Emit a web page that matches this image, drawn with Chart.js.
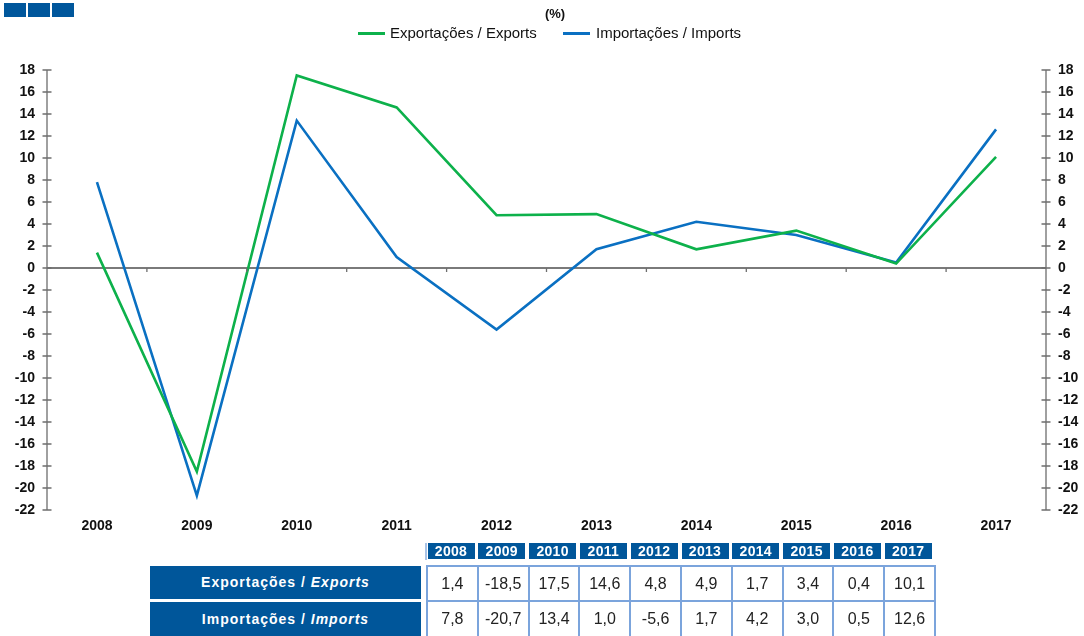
<!DOCTYPE html>
<html>
<head>
<meta charset="utf-8">
<script src="https://cdn.jsdelivr.net/npm/chart.js@4/dist/chart.umd.min.js"></script>
<style>
  html, body { margin: 0; padding: 0; background: #fff; }
  #wrap { position: relative; width: 1084px; height: 636px; overflow: hidden; font-family: "Liberation Sans", Arial, sans-serif; }
  #c { position: absolute; left: 0; top: 0; }
  .sq { position: absolute; top: 3px; width: 22px; height: 14px; background: #00579c; }
  .abs { position: absolute; }
  .lg-line { position: absolute; height: 3px; width: 27px; }
  .lg-text { position: absolute; font-size: 15px; color: #111; white-space: nowrap; line-height: 18px; }
  .hd { position: absolute; top: 543px; height: 16px; width: 47px; background: #00569a; color: #fff; font-weight: bold; font-size: 14px; line-height: 16px; text-align: center; letter-spacing: 0.3px; }
  .cell { position: absolute; box-sizing: border-box; border: 2px solid #7ba4dc; font-size: 16px; color: #222; text-align: center; }
  .rl { position: absolute; left: 150px; width: 271px; background: #00569a; color: #fff; font-weight: bold; font-size: 14px; text-align: center; letter-spacing: 1px; }
</style>
</head>
<body>
<div id="wrap">
  <canvas id="c" width="1084" height="636"></canvas>
  <div class="sq" style="left:4px"></div>
  <div class="sq" style="left:28px"></div>
  <div class="sq" style="left:52px"></div>
  <div id="legend"></div>
  <div id="table"></div>
</div>
<script>
// ---- data ----
const years = ['2008','2009','2010','2011','2012','2013','2014','2015','2016','2017'];
const exportsGrowth = [1.4, -18.5, 17.5, 14.6, 4.8, 4.9, 1.7, 3.4, 0.4, 10.1];
const importsGrowth = [7.8, -20.7, 13.4, 1.0, -5.6, 1.7, 4.2, 3.0, 0.5, 12.6];
const seriesNames = ['Exportações / Exports', 'Importações / Imports'];
const rowLabelsPt = ['Exportações / ', 'Importações / '];
const rowLabelsEn = ['Exports', 'Imports'];
const unitLabel = '(%)';
const yMin = -22, yMax = 18, yStep = 2;

const greenColor = '#0db14b';
const blueColor = '#0a70c2';
const axisColor = '#6e6e6e';

// ---- legend (HTML) ----
const legend = document.getElementById('legend');
legend.innerHTML =
  '<div class="abs" style="left:530px;top:6px;width:50px;text-align:center;font-weight:bold;font-size:13px;line-height:16px;color:#111">' + unitLabel + '</div>' +
  '<div class="lg-line" style="left:358px;top:32px;background:' + greenColor + '"></div>' +
  '<div class="lg-text" style="left:390px;top:24px">' + seriesNames[0] + '</div>' +
  '<div class="lg-line" style="left:563px;top:32px;background:' + blueColor + '"></div>' +
  '<div class="lg-text" style="left:596px;top:24px">' + seriesNames[1] + '</div>';

// ---- table (HTML) ----
function fmt(v) { return v.toFixed(1).replace('.', ','); }
const table = document.getElementById('table');
let html = '<div class="abs" style="left:425px;top:543px;width:2px;height:17px;background:#a9c3e6"></div>';
const colW = 50.8, x0 = 426;
years.forEach((y, i) => {
  const left = x0 + i * colW;
  html += '<div class="hd" style="left:' + (left + 1.5).toFixed(1) + 'px">' + y + '</div>';
  html += '<div class="cell" style="left:' + left.toFixed(1) + 'px;top:565px;width:' + (colW + 2).toFixed(1) + 'px;height:37px;line-height:33px">' + fmt(exportsGrowth[i]) + '</div>';
  html += '<div class="cell" style="left:' + left.toFixed(1) + 'px;top:600px;width:' + (colW + 2).toFixed(1) + 'px;height:40px;line-height:34px">' + fmt(importsGrowth[i]) + '</div>';
});
html += '<div class="rl" style="top:566px;height:33px;line-height:33px">' + rowLabelsPt[0] + '<i>' + rowLabelsEn[0] + '</i></div>';
html += '<div class="rl" style="top:602px;height:34px;line-height:34px">' + rowLabelsPt[1] + '<i>' + rowLabelsEn[1] + '</i></div>';
table.innerHTML = html;

// ---- axes plugin ----
const axesPlugin = {
  id: 'axesPlugin',
  afterDatasetsDraw(chart) {
    const ctx = chart.ctx;
    const a = chart.chartArea;
    const yS = chart.scales.y;
    const xS = chart.scales.x;
    ctx.save();
    ctx.strokeStyle = axisColor;
    ctx.lineWidth = 1.3;
    ctx.beginPath();
    [a.left, a.right].forEach(xp => {
      ctx.moveTo(xp, a.top); ctx.lineTo(xp, a.bottom);
      yS.ticks.forEach(t => {
        const yp = yS.getPixelForValue(t.value);
        ctx.moveTo(xp - 4.5, yp); ctx.lineTo(xp + 4.5, yp);
      });
    });
    const y0 = yS.getPixelForValue(0);
    for (let i = 1; i < years.length; i++) {
      const xp = (xS.getPixelForTick(i - 1) + xS.getPixelForTick(i)) / 2;
      ctx.moveTo(xp, y0); ctx.lineTo(xp, y0 + 4);
    }
    ctx.stroke();
    ctx.restore();
  }
};

const tickFont = { family: '"Liberation Sans", Arial, sans-serif', size: 14, weight: 'bold' };

new Chart(document.getElementById('c'), {
  type: 'line',
  data: {
    labels: years,
    datasets: [
      { label: seriesNames[0], data: exportsGrowth, borderColor: greenColor, backgroundColor: greenColor, borderWidth: 2.6, pointRadius: 0, tension: 0, yAxisID: 'y' },
      { label: seriesNames[1], data: importsGrowth, borderColor: blueColor, backgroundColor: blueColor, borderWidth: 2.6, pointRadius: 0, tension: 0, yAxisID: 'y' }
    ]
  },
  options: {
    responsive: false,
    animation: false,
    layout: { padding: { left: 0, right: 0, top: 70, bottom: 0 } },
    plugins: { legend: { display: false }, tooltip: { enabled: false } },
    scales: {
      x: {
        type: 'category',
        offset: true,
        grid: { display: false, drawTicks: false },
        border: { display: false },
        ticks: { font: tickFont, color: '#111', padding: 8, maxRotation: 0 },
        afterFit(s) { s.height = 636 - 510; }
      },
      y: {
        position: 'left',
        min: yMin, max: yMax,
        grid: {
          drawTicks: false,
          color: c => (c.tick && c.tick.value === 0) ? '#7a7a7a' : 'rgba(0,0,0,0)',
          lineWidth: c => (c.tick && c.tick.value === 0) ? 2 : 0
        },
        border: { display: false },
        ticks: { stepSize: yStep, font: tickFont, color: '#111', padding: 12 },
        afterFit(s) { s.width = 47; }
      },
      y2: {
        position: 'right',
        min: yMin, max: yMax,
        grid: { display: false, drawTicks: false },
        border: { display: false },
        ticks: { stepSize: yStep, font: tickFont, color: '#111', padding: 12 },
        afterFit(s) { s.width = 1084 - 1046; }
      }
    }
  },
  plugins: [axesPlugin]
});
</script>
</body>
</html>
